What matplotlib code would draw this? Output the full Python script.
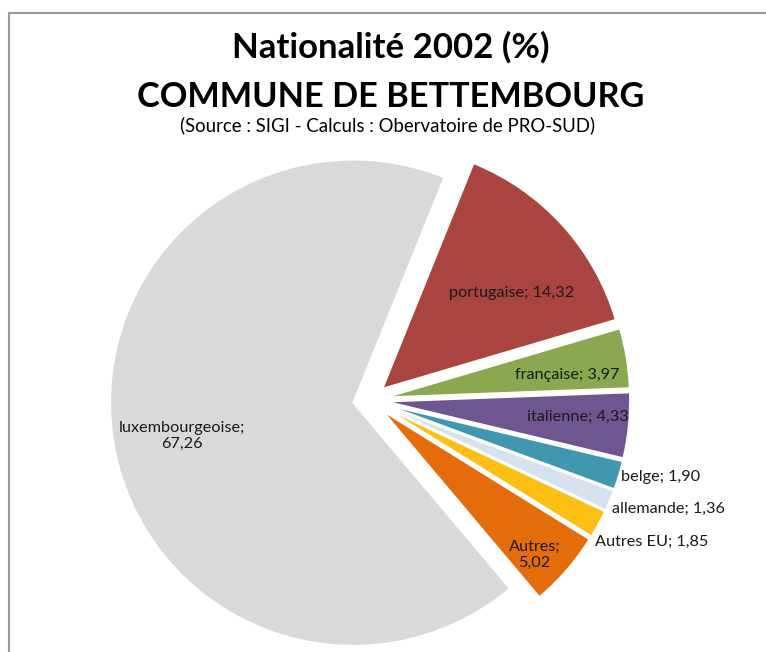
import math
import matplotlib
matplotlib.use("Agg")
import matplotlib.pyplot as plt
from matplotlib.lines import Line2D

# ---- data ----
categories = ["portugaise", "française", "italienne", "belge", "allemande",
              "Autres EU", "Autres", "luxembourgeoise"]
values = [14.32, 3.97, 4.33, 1.90, 1.36, 1.85, 5.02, 67.26]
value_labels = ["14,32", "3,97", "4,33", "1,90", "1,36", "1,85", "5,02", "67,26"]
title_line1 = "Nationalité 2002 (%)"
title_line2 = "COMMUNE DE BETTEMBOURG"
subtitle = "(Source : SIGI - Calculs : Obervatoire de PRO-SUD)"

# ---- style ----
colors = ["#A9443F", "#8AA84F", "#705690", "#3F97B0", "#D7E1EE",
          "#FDBF13", "#E46C0A", "#D9D9D9"]
# label placement: (fraction of radius, angle tweak deg, ha, two-line)
label_style = [
    (0.66, -5.6, "center", False),
    (0.75, -2.3, "center", False),
    (0.79, 1.2, "center", False),
    (1.01, -0.2, "left", False),
    (1.02, -1.6, "left", False),
    (1.025, -4.0, "left", False),
    (0.86, -2.7, "center", True),
    (0.72, 2.0, "center", True),
]
FONT = "Lato"
W, H = 766, 652

fig = plt.figure(figsize=(W / 100, H / 100), dpi=100)
ax = fig.add_axes([0, 0, 1, 1])

wedges, _ = ax.pie(values, colors=colors, startangle=68, counterclock=False,
                   center=(370, H - 400), radius=243, explode=[17] * len(values),
                   wedgeprops=dict(edgecolor="white", linewidth=1.2))
ax.set_xlim(0, W)
ax.set_ylim(0, H)
ax.set_aspect("equal")
ax.axis("off")

for w, cat, vl, (fr, dth, ha, two) in zip(wedges, categories, value_labels, label_style):
    thm = math.radians((w.theta1 + w.theta2) / 2 + dth)
    cx, cy = w.center
    x = cx + fr * w.r * math.cos(thm)
    y = cy + fr * w.r * math.sin(thm)
    txt = f"{cat};\n{vl}" if two else f"{cat}; {vl}"
    ax.text(x, y, txt, ha=ha, va="center", fontsize=11.7, family=FONT,
            color="#1a1a1a", multialignment="center", linespacing=1.2)

# titles
fig.text(391 / W, 1 - 58 / H, title_line1, ha="center", va="baseline",
         fontsize=25, fontweight="bold", family=FONT, color="black")
fig.text(391 / W, 1 - 107 / H, title_line2, ha="center", va="baseline",
         fontsize=24.7, fontweight="bold", family=FONT, color="black")
fig.text(388 / W, 1 - 131 / H, subtitle, ha="center", va="baseline",
         fontsize=13.4, family=FONT, color="black")

# chart frame
fig.add_artist(Line2D([9 / W, 1], [1 - 13 / H, 1 - 13 / H], transform=fig.transFigure,
                      color="#9a9a9a", linewidth=1.5))
fig.add_artist(Line2D([9 / W, 9 / W], [0, 1 - 13 / H], transform=fig.transFigure,
                      color="#9a9a9a", linewidth=1.5))

fig.savefig("out.png", dpi=100)
